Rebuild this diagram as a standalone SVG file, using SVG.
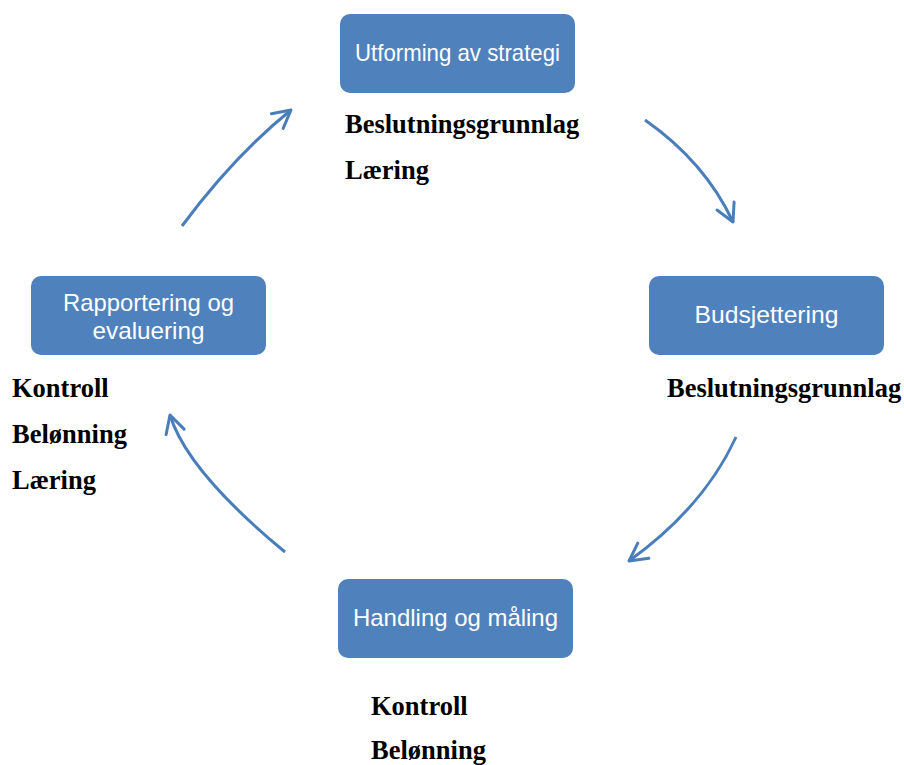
<svg xmlns="http://www.w3.org/2000/svg" width="904" height="765" viewBox="0 0 904 765">
<style>
.box{fill:#4F81BD;}
.bl{fill:#fff;font-family:"Liberation Sans",Arial,sans-serif;font-size:24px;text-anchor:middle;}
.note{fill:#000;font-family:"Liberation Serif","Times New Roman",serif;font-size:26.5px;font-weight:bold;}
.arc{fill:none;stroke:#4A7EBB;stroke-width:3;marker-end:url(#ah);}
</style>
<defs>
<marker id="ah" markerUnits="userSpaceOnUse" markerWidth="30" markerHeight="30" refX="0" refY="0" viewBox="-20 -15 25 30" orient="auto" overflow="visible">
<path d="M-17.6,-9.4 L0,0 L-17.6,9.4" fill="none" stroke="#4A7EBB" stroke-width="3" stroke-linecap="round" stroke-linejoin="round"/>
</marker>
</defs>
<rect width="904" height="765" fill="#fff"/>
<g id="connectors">
<path class="arc" d="M182,226 Q235,155 291,110"/>
<path class="arc" d="M645,120 Q705,162 733,222"/>
<path class="arc" d="M736,437 Q704,507 629,561"/>
<path class="arc" d="M285,552 Q187,471 170,415"/>
</g>
<g id="n-strategi">
<rect class="box" x="340" y="14" width="235" height="79" rx="10"/>
<text class="bl" x="457.5" y="61" textLength="205" lengthAdjust="spacingAndGlyphs">Utforming av strategi</text>
</g>
<g id="n-budsjett">
<rect class="box" x="649" y="276" width="235" height="79" rx="10"/>
<text class="bl" x="766.5" y="323" textLength="144" lengthAdjust="spacingAndGlyphs">Budsjettering</text>
</g>
<g id="n-handling">
<rect class="box" x="338" y="579" width="235" height="79" rx="10"/>
<text class="bl" x="455.5" y="626" textLength="205" lengthAdjust="spacingAndGlyphs">Handling og måling</text>
</g>
<g id="n-rapport">
<rect class="box" x="31" y="276" width="235" height="79" rx="10"/>
<text class="bl" x="148.5" y="311" textLength="171" lengthAdjust="spacingAndGlyphs">Rapportering og</text>
<text class="bl" x="148.5" y="339" textLength="112" lengthAdjust="spacingAndGlyphs">evaluering</text>
</g>
<g id="notes">
<text class="note" x="345" y="133">Beslutningsgrunnlag</text>
<text class="note" x="345" y="179">Læring</text>
<text class="note" x="667" y="397">Beslutningsgrunnlag</text>
<text class="note" x="12" y="397">Kontroll</text>
<text class="note" x="12" y="443">Belønning</text>
<text class="note" x="12" y="489">Læring</text>
<text class="note" x="371" y="715">Kontroll</text>
<text class="note" x="371" y="759">Belønning</text>
</g>
</svg>
